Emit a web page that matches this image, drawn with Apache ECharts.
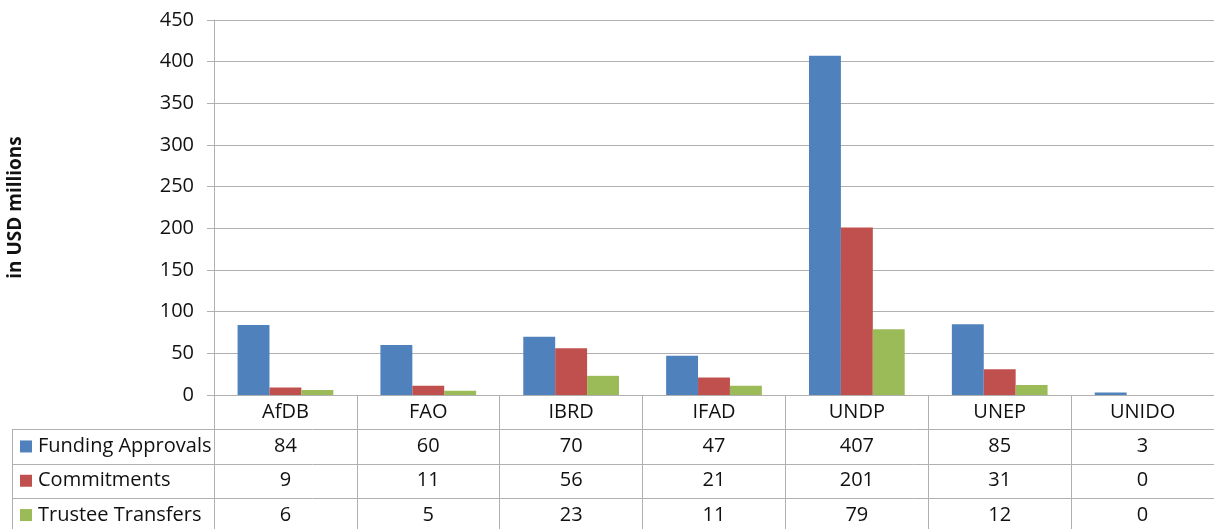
<!DOCTYPE html>
<html lang="en">
<head>
<meta charset="utf-8">
<title>Funding by agency</title>
<style>
    html, body { margin: 0; padding: 0; background: #fff; }
    #chart { width: 1214px; height: 529px; }
</style>
</head>
<body>
<div id="chart"></div>
<script src="https://cdn.jsdelivr.net/npm/echarts@6/dist/echarts.min.js"></script>
<script>
// data
var agencies = ['AfDB', 'FAO', 'IBRD', 'IFAD', 'UNDP', 'UNEP', 'UNIDO'];
var fundingApprovals = [84, 60, 70, 47, 407, 85, 3];
var commitments = [9, 11, 56, 21, 201, 31, 0];
var trusteeTransfers = [6, 5, 23, 11, 79, 12, 0];
var seriesNames = ['Funding Approvals', 'Commitments', 'Trustee Transfers'];
var seriesColors = ['#4F81BD', '#C0504D', '#9BBB59'];
var yTicks = [0, 50, 100, 150, 200, 250, 300, 350, 400, 450];

var font = '"Open Sans", sans-serif';
var textColor = '#111';
var lineColor = '#b0b0b0';

var gridLeft = 214, gridTop = 20, gridBottom = 134;
var rowH = 34.3;
var tableLeft = 12;
var allValues = [fundingApprovals, commitments, trusteeTransfers];

var chart = echarts.init(document.getElementById('chart'));

// data table under the axis: one column per agency, header + one row per series
function cellText(value, idx) {
    return [value].concat(allValues.map(function (s) { return s[idx]; })).join('\n');
}

function buildTableGraphics() {
    var w = chart.getWidth(), h = chart.getHeight();
    var axisY = h - gridBottom;
    var g = [];
    for (var r = 1; r <= 3; r++) {
        var y = Math.round(axisY + r * rowH) + 0.5;
        g.push({ type: 'line', shape: { x1: tableLeft, y1: y, x2: w, y2: y },
                 style: { stroke: lineColor, lineWidth: 1 }, silent: true });
    }
    g.push({ type: 'line', shape: { x1: tableLeft + 0.5, y1: Math.round(axisY + rowH) + 0.5, x2: tableLeft + 0.5, y2: h },
             style: { stroke: lineColor, lineWidth: 1 }, silent: true });
    seriesNames.forEach(function (name, i) {
        var cy = axisY + (i + 1.5) * rowH;
        g.push({ type: 'rect', shape: { x: tableLeft + 8, y: cy - 6, width: 12, height: 12 },
                 style: { fill: seriesColors[i] }, silent: true });
        g.push({ type: 'text', x: tableLeft + 26, y: cy,
                 style: { text: name, font: '20px ' + font, fill: textColor, verticalAlign: 'middle' },
                 silent: true });
    });
    return g;
}

var option = {
    animation: false,
    textStyle: { fontFamily: font },
    grid: { left: gridLeft, right: 0, top: gridTop, bottom: gridBottom, containLabel: false, outerBoundsMode: 'none' },
    xAxis: {
        type: 'category',
        data: agencies,
        axisLine: { lineStyle: { color: lineColor } },
        axisTick: { show: true, inside: false, length: 134, lineStyle: { color: lineColor }, interval: 0 },
        axisLabel: {
            interval: 0,
            margin: 0,
            color: textColor,
            fontSize: 20,
            lineHeight: rowH,
            formatter: cellText
        }
    },
    yAxis: {
        type: 'value',
        min: yTicks[0],
        max: yTicks[yTicks.length - 1],
        interval: yTicks[1] - yTicks[0],
        name: 'in USD millions',
        nameLocation: 'middle',
        nameGap: 189,
        nameTextStyle: { fontSize: 19, fontWeight: 'bold', color: textColor },
        axisLine: { show: true, lineStyle: { color: lineColor } },
        axisTick: { show: true, length: 7, lineStyle: { color: lineColor } },
        axisLabel: { margin: 20, fontSize: 20, color: textColor },
        splitLine: { lineStyle: { color: lineColor } }
    },
    series: seriesNames.map(function (name, i) {
        return {
            name: name,
            type: 'bar',
            data: allValues[i],
            barGap: '0%',
            barCategoryGap: '33%',
            itemStyle: { color: seriesColors[i] }
        };
    }),
    graphic: buildTableGraphics()
};
chart.setOption(option);
</script>
</body>
</html>
